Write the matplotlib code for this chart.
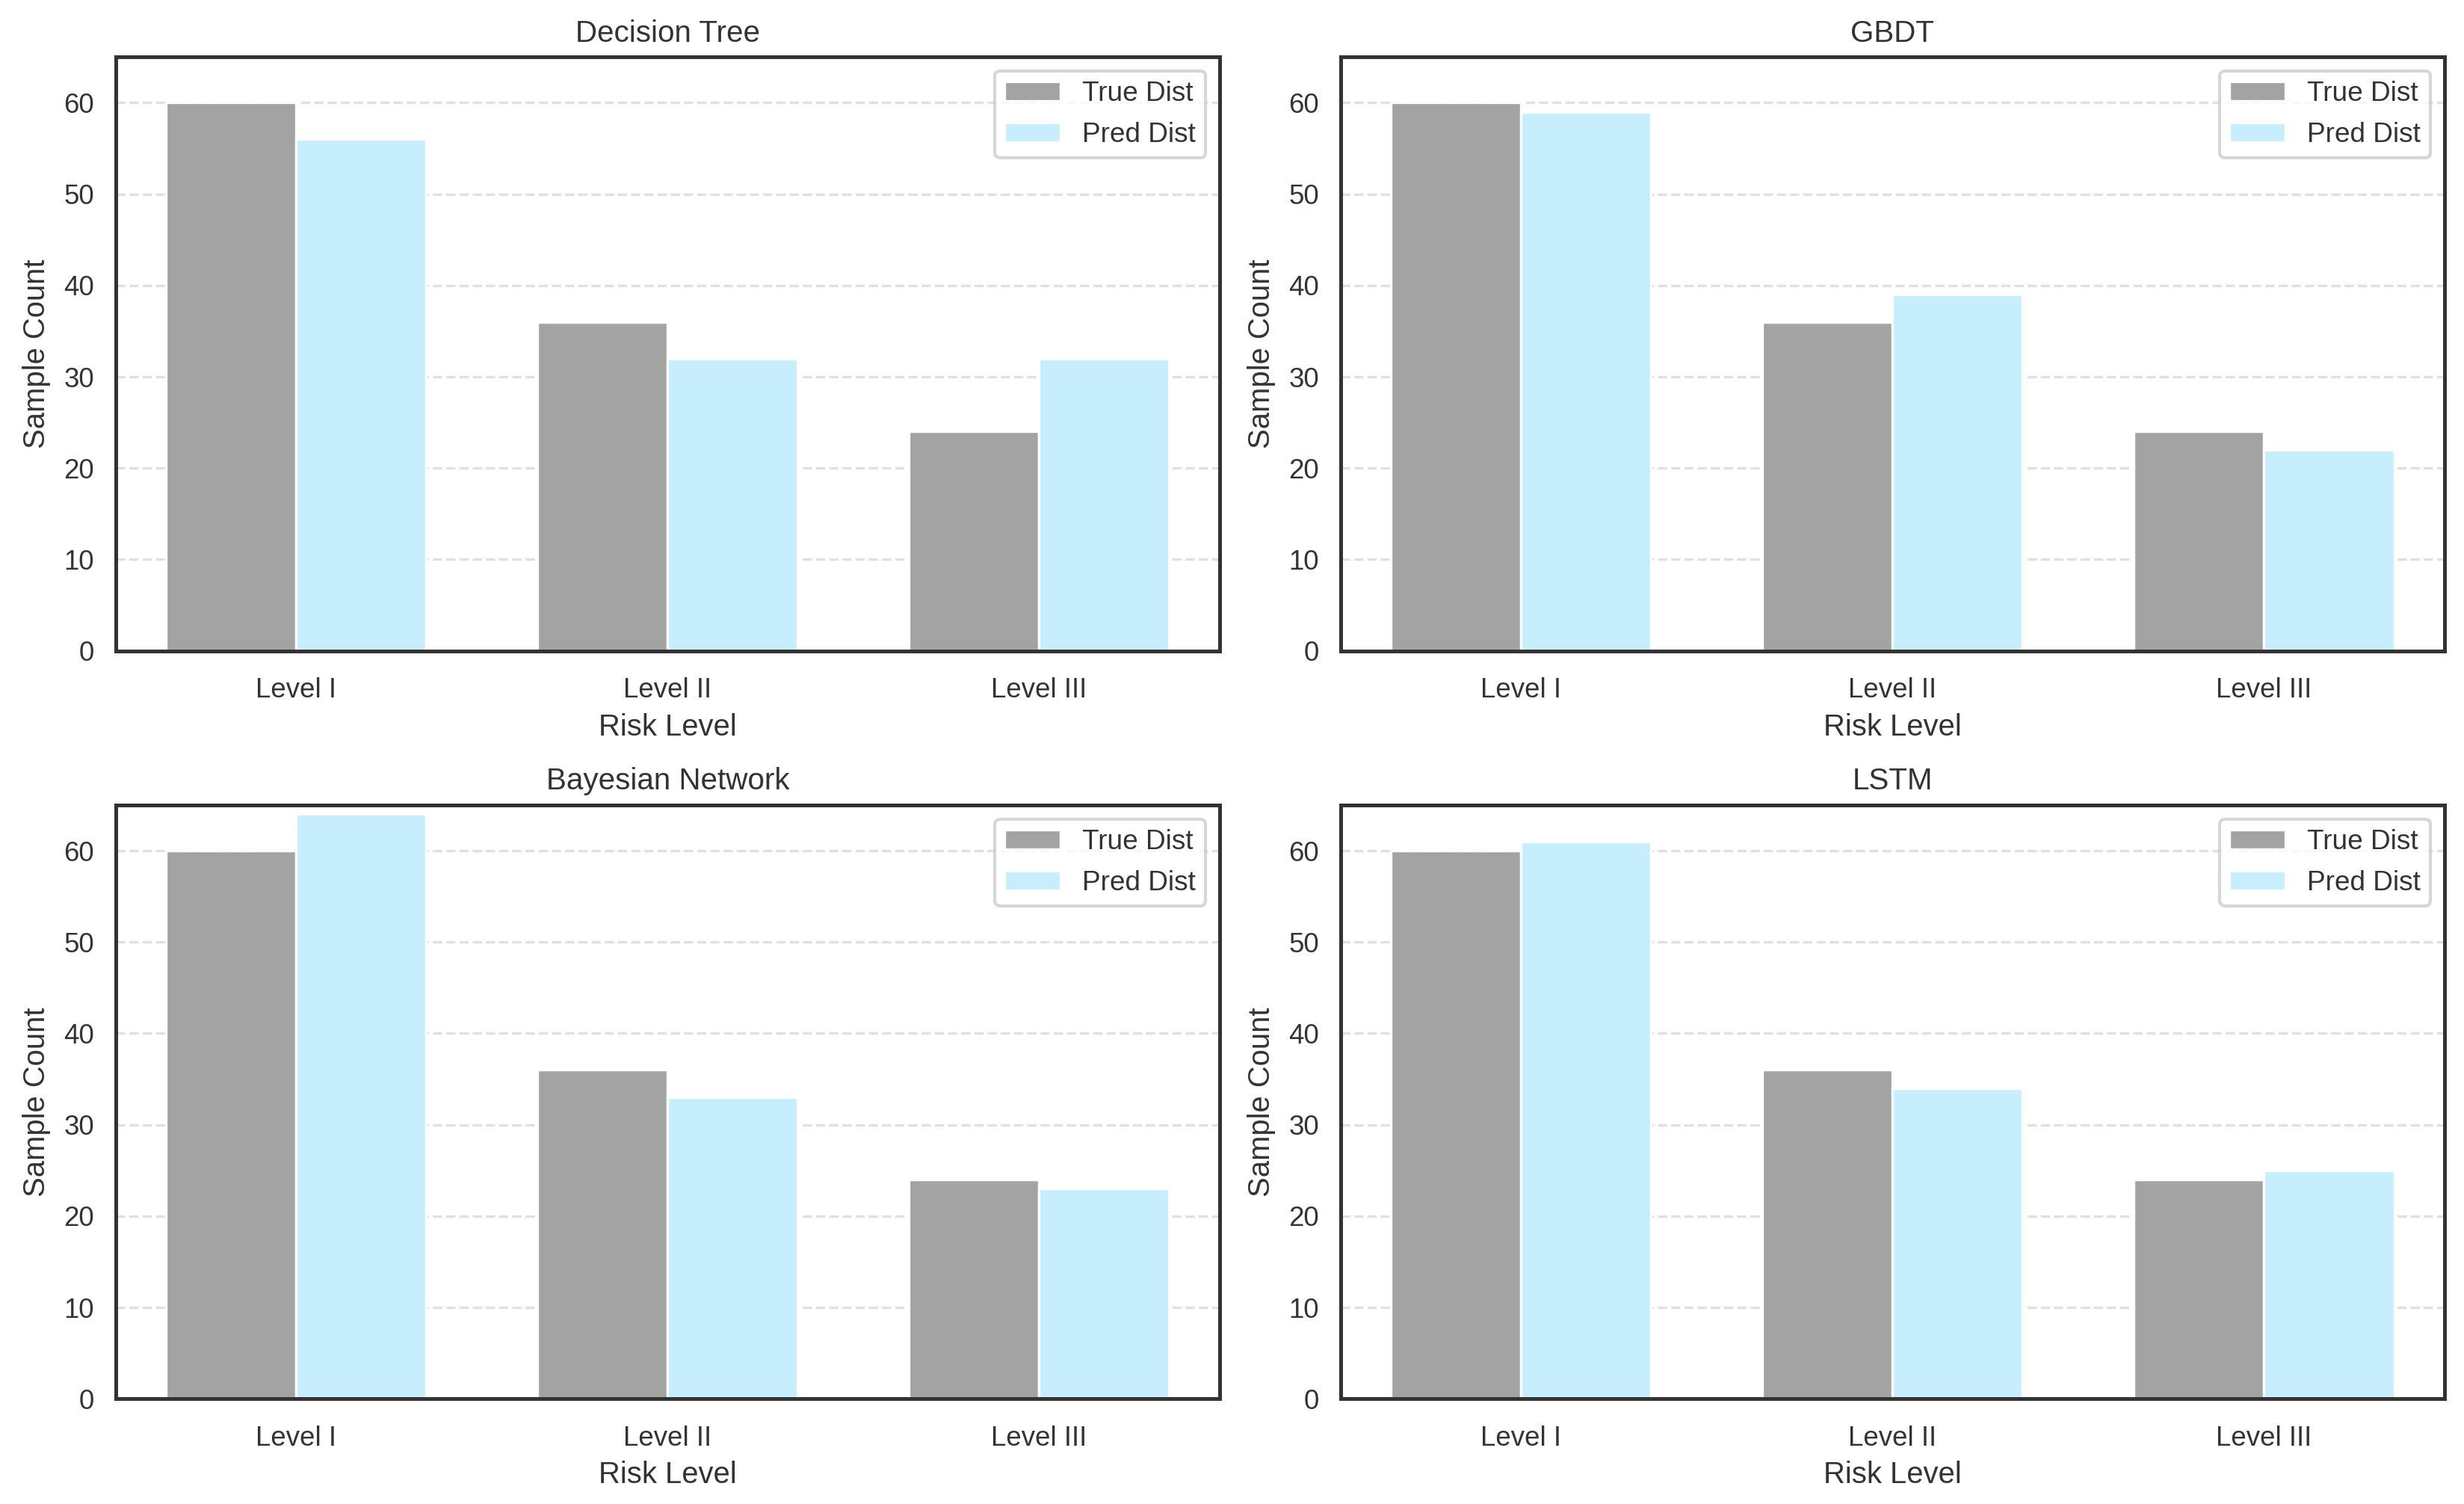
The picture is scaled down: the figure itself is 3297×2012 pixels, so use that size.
import numpy as np
import matplotlib
matplotlib.use("Agg")
import matplotlib.pyplot as plt
import seaborn as sns

sns.set_style("white")
plt.rcParams['font.family'] = ['Liberation Sans', 'DejaVu Sans']

levels = ["Level I", "Level II", "Level III"]
models = ["Decision Tree", "GBDT", "Bayesian Network", "LSTM"]
true_dist = [60, 36, 24]
pred_dt = [56, 32, 32]
pred_gbdt = [59, 39, 22]
pred_bn = [64, 33, 23]
pred_lstm = [61, 34, 25]
preds = [pred_dt, pred_gbdt, pred_bn, pred_lstm]

true_color = "#a3a3a3"
pred_color = "#c6eefc"
text_color = "#333333"
width = 0.35

fig, axes = plt.subplots(2, 2, figsize=(10.99, 6.707), dpi=300)
x = np.arange(len(levels))

for ax, name, pred in zip(axes.flat, models, preds):
    ax.bar(x - width / 2, true_dist, width, color=true_color, edgecolor="white",
           linewidth=0.8, label="True Dist")
    ax.bar(x + width / 2, pred, width, color=pred_color, edgecolor="white",
           linewidth=0.8, label="Pred Dist")
    ax.set_title(name, fontsize=9.7, color=text_color, pad=5)
    ax.set_xlabel("Risk Level", fontsize=9.6, color=text_color, labelpad=3)
    ax.set_ylabel("Sample Count", fontsize=9.6, color=text_color)
    ax.set_xticks(x)
    ax.set_xticklabels(levels, fontsize=8.8, color=text_color)
    ax.tick_params(axis="x", pad=5)
    ax.tick_params(axis="y", labelsize=8.8, labelcolor=text_color)
    ax.set_ylim(0, 65)
    ax.yaxis.grid(True, linestyle="--", color="#e0e0e0", linewidth=0.8)
    ax.set_axisbelow(True)
    for s in ax.spines.values():
        s.set_color("#333333")
        s.set_linewidth(1.2)
    ax.legend(loc="upper right", fontsize=8.9, frameon=True, fancybox=True,
              edgecolor="#cccccc", borderpad=0.35, labelspacing=0.55,
              labelcolor=text_color)

fig.subplots_adjust(left=0.047, right=0.992, top=0.962, bottom=0.07,
                    wspace=0.11, hspace=0.26)
fig.savefig("out.png", dpi=300)
